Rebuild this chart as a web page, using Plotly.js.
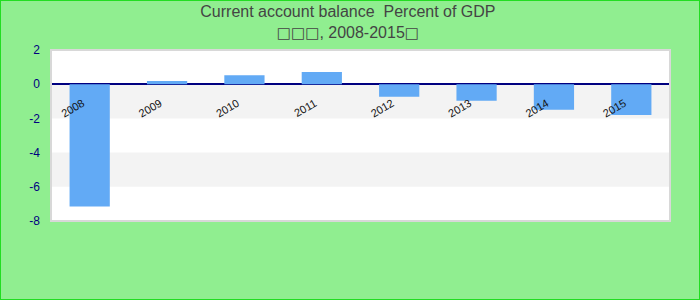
<!DOCTYPE html>
<html>
<head>
<meta charset="utf-8">
<script src="https://cdn.plot.ly/plotly-3.0.1.min.js"></script>
<style>
  html, body { margin: 0; padding: 0; background: #90ee90; }
  #wrap { position: relative; width: 700px; height: 300px; }
  #chart { width: 700px; height: 300px; }
  #frame { position: absolute; left: 0; top: 0; width: 700px; height: 300px; box-sizing: border-box; border: 1px solid #22dd22; pointer-events: none; }
</style>
</head>
<body>
<div id="wrap"><div id="chart"></div><div id="frame"></div></div>
<script>
const years = ['2008', '2009', '2010', '2011', '2012', '2013', '2014', '2015'];
const balance = [-7.15, 0.18, 0.53, 0.72, -0.73, -0.97, -1.5, -1.8];
const yTicks = [2, 0, -2, -4, -6, -8];
const titleLine1 = 'Current account balance  Percent of GDP';
const box = '<span style="font-family:DejaVu Sans;font-size:15px">\u25A1</span>';
const titleLine2 = box + box + box + ', 2008-2015' + box;

const yMin = Math.min(...yTicks), yMax = Math.max(...yTicks);

// alternating grey bands between 0 and -2, -4 and -6
const shapes = [];
for (let i = 1; i < yTicks.length - 1; i += 2) {
  shapes.push({
    type: 'rect', layer: 'below', xref: 'paper', yref: 'y',
    x0: 0, x1: 1, y0: yTicks[i], y1: yTicks[i + 1],
    fillcolor: '#f3f3f3', line: { width: 0 }
  });
}
// plot-area frame
shapes.push({
  type: 'rect', layer: 'above', xref: 'paper', yref: 'paper',
  x0: 0, x1: 1, y0: 0, y1: 1,
  line: { color: '#d8d8d8', width: 2 }, fillcolor: 'rgba(0,0,0,0)'
});

const trace = {
  type: 'bar', x: years, y: balance,
  marker: { color: '#62aaf5', line: { width: 0 } },
  hoverinfo: 'x+y'
};

const layout = {
  width: 700, height: 300,
  margin: { l: 51, r: 30, t: 50, b: 79, pad: 0 },
  paper_bgcolor: '#90ee90',
  plot_bgcolor: '#ffffff',
  font: { family: 'Liberation Sans, Arial, sans-serif' },
  title: {
    text: titleLine1 + '<br>' + titleLine2,
    font: { size: 16, color: '#444444', family: 'Liberation Sans, Arial, sans-serif' },
    x: 0.497, xanchor: 'center', xref: 'container',
    y: 0.943, yanchor: 'top'
  },
  bargap: 0.48,
  showlegend: false,
  xaxis: {
    type: 'category',
    anchor: 'free',
    position: (0 - yMin) / (yMax - yMin),
    showgrid: false, showline: false, zeroline: false,
    ticks: '', tickangle: -30,
    tickfont: { size: 11, color: '#111111' },
    ticklabelstandoff: 10,
    ticklabelshift: -7
  },
  yaxis: {
    range: [yMin, yMax],
    tickvals: yTicks,
    ticktext: yTicks.map(String),
    showgrid: false, showline: false,
    zeroline: true, zerolinecolor: '#000080', zerolinewidth: 1.5,
    ticks: '',
    tickfont: { size: 12, color: '#000080' },
    ticklabelstandoff: 10
  },
  shapes: shapes
};

Plotly.newPlot('chart', [trace], layout, { displayModeBar: false, staticPlot: true });
</script>
</body>
</html>
